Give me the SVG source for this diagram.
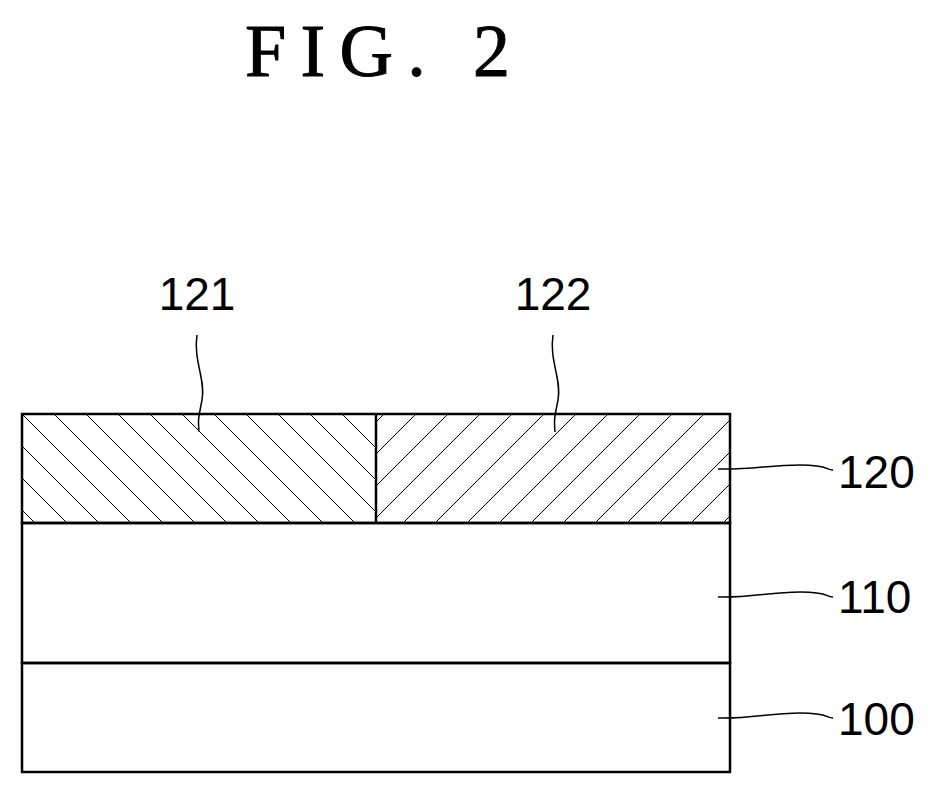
<svg xmlns="http://www.w3.org/2000/svg" width="939" height="796" viewBox="0 0 939 796">
<style>
.b{fill:none;stroke:#000;stroke-width:2.5}
.l{fill:none;stroke:#000;stroke-width:1.5}
.t{font-family:"Liberation Sans",Arial,sans-serif;font-size:46px;fill:#000}
</style>
<defs>
<pattern id="hl" patternUnits="userSpaceOnUse" width="32" height="32" x="22" y="414"><path d="M-8 -8L40 40M-8 24L8 40M24 -8L40 8" stroke="#000" stroke-width="1"/></pattern>
<pattern id="hr" patternUnits="userSpaceOnUse" width="32" height="32" x="0" y="414"><path d="M-8 40L40 -8M-8 8L8 -8M24 40L40 24" stroke="#000" stroke-width="1"/></pattern>
</defs>
<rect width="939" height="796" fill="#fff"/>
<text x="245" y="76" textLength="265" lengthAdjust="spacing" font-family="Liberation Serif,serif" font-size="74" stroke="#000" stroke-width="1">FIG. 2</text>
<g id="n121"><rect x="22" y="414" width="354" height="109" fill="url(#hl)"/></g>
<g id="n122"><rect x="376" y="414" width="354" height="109" fill="url(#hr)"/></g>
<g id="n120"><rect class="b" x="22" y="414" width="708" height="109"/><line class="b" x1="376" y1="414" x2="376" y2="523"/></g>
<g id="n110"><rect class="b" x="22" y="523" width="708" height="140"/></g>
<g id="n100"><rect class="b" x="22" y="663" width="708" height="109"/></g>
<g id="connectors">
<path class="l" d="M197 335C193 360 206 380 202 400S198 420 199 432"/>
<path class="l" d="M553 335C549 360 562 380 558 400S554 420 555 432"/>
<path class="l" d="M718 469C750 470 770 465 800 465S825 470 833 470"/>
<path class="l" d="M718 597C750 598 770 592 800 592S825 597 833 597"/>
<path class="l" d="M718 718C750 719 770 713 800 713S825 718 833 718"/>
</g>
<text class="t" x="197" y="310" text-anchor="middle">121</text>
<text class="t" x="553" y="310" text-anchor="middle">122</text>
<text class="t" x="838" y="488">120</text>
<text class="t" x="838" y="613">110</text>
<text class="t" x="838" y="735">100</text>
</svg>
